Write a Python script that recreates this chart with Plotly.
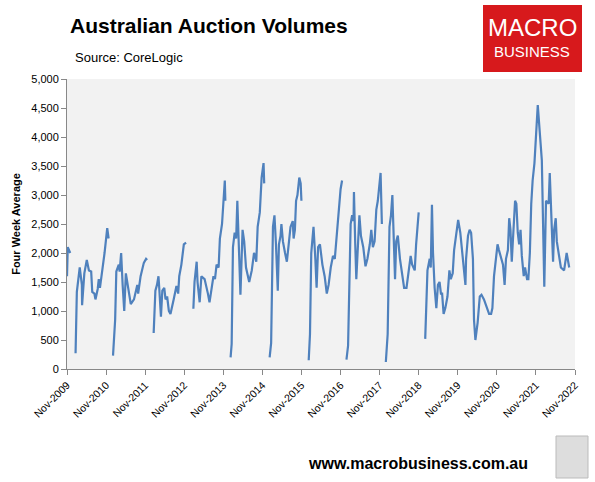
import plotly.graph_objects as go

dates = [
"2009-11-01","2009-11-08","2009-12-01",None,
"2010-01-20","2010-02-01","2010-02-28","2010-03-20","2010-03-22","2010-04-12","2010-05-05","2010-05-25","2010-06-15","2010-06-25","2010-07-15","2010-07-25","2010-08-15","2010-08-25","2010-09-05","2010-09-27","2010-10-18","2010-11-12","2010-11-25",None,
"2011-01-05","2011-01-25","2011-02-05","2011-02-28","2011-03-08","2011-03-22","2011-04-05","2011-04-20","2011-05-05","2011-05-20","2011-06-05","2011-06-20","2011-07-20","2011-08-20","2011-08-28","2011-09-20","2011-10-20","2011-11-10","2011-11-20",None,
"2012-01-20","2012-02-05","2012-02-20","2012-03-05","2012-03-12","2012-03-28","2012-04-10","2012-04-28","2012-05-10","2012-05-25","2012-06-10","2012-06-25","2012-07-25","2012-08-20","2012-09-05","2012-09-15","2012-10-05","2012-10-28","2012-11-18",None,
"2013-01-25","2013-02-05","2013-02-25","2013-03-05","2013-03-25","2013-04-10","2013-05-10","2013-05-25","2013-06-10","2013-06-25","2013-07-20","2013-08-01","2013-08-15","2013-08-30","2013-09-18","2013-09-30","2013-10-20","2013-11-01","2013-11-15","2013-11-20",None,
"2014-01-08","2014-01-18","2014-01-30","2014-02-15","2014-03-01","2014-03-12","2014-03-30","2014-04-10","2014-04-30","2014-05-15","2014-06-01","2014-07-01","2014-07-25","2014-08-15","2014-08-25","2014-09-05","2014-09-18","2014-10-08","2014-10-25","2014-11-12","2014-11-18",None,
"2015-01-08","2015-01-22","2015-02-08","2015-02-22","2015-03-08","2015-03-25","2015-04-05","2015-04-20","2015-04-28","2015-05-12","2015-06-01","2015-06-18","2015-07-05","2015-07-22","2015-08-12","2015-08-20","2015-09-01","2015-09-12","2015-09-25","2015-10-12","2015-10-25","2015-11-01",None,
"2016-01-08","2016-01-20","2016-02-01","2016-02-22","2016-03-10","2016-03-22","2016-04-05","2016-04-22","2016-05-15","2016-06-05","2016-06-25","2016-07-12","2016-08-01","2016-08-22","2016-09-08","2016-10-01","2016-10-15","2016-11-01","2016-11-15",None,
"2016-12-26","2017-01-10","2017-02-03","2017-02-17","2017-03-02","2017-03-06","2017-03-18","2017-03-28","2017-04-26","2017-05-10","2017-06-01","2017-06-22","2017-07-10","2017-08-01","2017-08-15","2017-08-30","2017-09-15","2017-10-01","2017-10-15","2017-10-28","2017-11-10","2017-11-22",None,
"2017-12-29","2018-01-15","2018-02-01","2018-02-15","2018-02-28","2018-03-08","2018-03-25","2018-04-05","2018-04-20","2018-05-10","2018-05-25","2018-06-18","2018-07-10","2018-07-28","2018-08-18","2018-09-01","2018-09-25","2018-10-08","2018-10-15","2018-11-01",None,
"2019-01-01","2019-01-22","2019-02-12","2019-02-22","2019-03-05","2019-03-15","2019-03-30","2019-04-15","2019-04-30","2019-05-15","2019-05-28","2019-06-08","2019-06-22","2019-07-08","2019-07-28","2019-08-15","2019-08-28","2019-09-15","2019-09-28","2019-10-15","2019-11-05","2019-11-25","2019-12-18",
"2020-01-12","2020-01-18","2020-02-05","2020-02-20","2020-03-05","2020-03-22","2020-04-01","2020-04-14","2020-05-05","2020-05-25","2020-06-10","2020-07-03","2020-07-25","2020-08-20","2020-09-08","2020-09-20","2020-10-05","2020-10-20","2020-11-07","2020-11-20","2020-12-16","2020-12-28",
"2021-01-12","2021-01-25","2021-02-12","2021-02-24","2021-03-08","2021-03-20","2021-04-02","2021-04-20","2021-05-02","2021-05-15","2021-05-28","2021-06-10","2021-06-22","2021-07-10","2021-07-22","2021-08-10","2021-08-22","2021-09-05","2021-09-18","2021-10-01","2021-10-18","2021-11-18","2021-12-26",
"2022-01-18","2022-02-03","2022-02-28","2022-03-10","2022-03-25","2022-04-10","2022-04-20","2022-05-05","2022-05-15","2022-06-22","2022-07-22","2022-08-15","2022-09-08",
]
volumes = [
1600,2100,2000,None,
270,1330,1750,1450,1100,1650,1880,1700,1680,1330,1300,1200,1380,1550,1400,1700,2000,2430,2250,None,
230,850,1680,1800,1680,2000,1450,1000,1650,1500,1300,1120,1200,1450,1300,1600,1830,1900,1880,None,
620,1350,1450,1600,1400,900,1350,1400,1200,1250,1000,950,1200,1430,1300,1600,1800,2150,2180,None,
1040,1500,1850,1500,1150,1600,1550,1450,1300,1150,1450,1600,1550,1800,1750,2250,2500,2950,3250,2900,None,
200,430,2100,2350,2250,2900,1900,1280,2400,2200,1750,1500,1700,2000,1950,1850,2450,2700,3300,3550,3200,None,
200,450,2450,2650,2150,1350,2150,2300,2500,2200,2000,1850,2150,2450,2550,2250,2400,2900,3000,3300,3200,2900,None,
150,600,2000,2450,1900,1400,2100,2150,1800,1600,1300,1450,1750,1950,1900,2400,2600,3100,3250,None,
160,400,2500,2650,2550,3050,2150,1550,2650,2300,2100,1770,1900,2150,2400,2100,2200,2750,2900,3100,3380,2500,None,
120,600,2450,2650,3000,2450,1550,2200,2300,1900,1700,1400,1400,1700,1950,1800,1700,2150,2300,2700,None,
520,1700,1900,1750,2830,2000,1400,1050,1450,1500,1300,1300,950,1050,1250,1700,1550,1650,2050,2300,2570,2350,1900,
1450,1900,2300,2400,2350,1900,850,500,800,1250,1280,1200,1100,950,950,1050,1600,1850,2150,2050,1900,1800,
1450,1900,2050,2600,2400,1850,2300,2900,2850,2350,2150,2400,1950,1600,1750,1550,1550,2000,2850,3250,3550,4550,3600,
1420,2900,2850,3380,2500,1850,2400,2600,2200,1750,1700,2000,1750,
]
years = list(range(2009, 2023))
tick_dates = [f"{y}-11-01" for y in years]
tick_labels = [f"Nov-{y}" for y in years]
y_ticks = list(range(0, 5001, 500))

fig = go.Figure(go.Scatter(x=dates, y=volumes, mode="lines", connectgaps=False,
                           line=dict(color="#4F81BD", width=2.2)))
fnt = "Liberation Sans, Arial, sans-serif"
fig.update_layout(
    width=595, height=482, paper_bgcolor="white", plot_bgcolor="#F2F2F2",
    margin=dict(l=67, r=20, t=79, b=113, autoexpand=False), showlegend=False,
    font=dict(family=fnt, size=11, color="black"),
    xaxis=dict(range=["2009-11-01", "2022-11-01"], tickvals=tick_dates, ticktext=tick_labels,
               tickangle=-45, showgrid=False, zeroline=False, showline=True, linecolor="#888",
               ticks="outside", ticklen=5, tickcolor="#888", tickfont=dict(size=10.5)),
    yaxis=dict(range=[0, 5000], tickvals=y_ticks, tickformat=",", showgrid=False, zeroline=False,
               showline=True, linecolor="#888", ticks="outside", ticklen=5, tickcolor="#888",
               title=dict(text="<b>Four Week Average</b>", font=dict(size=11), standoff=8)),
    annotations=[
        dict(text="<b>Australian Auction Volumes</b>", x=68, y=482-25, xref="paper", yref="paper",
             showarrow=False, font=dict(size=21), xanchor="left", yanchor="middle"),
        dict(text="Source: CoreLogic", x=73, y=482-57, showarrow=False, font=dict(size=13),
             xanchor="left", yanchor="middle"),
        dict(text="MACRO", x=532, y=482-27, showarrow=False, font=dict(size=24, color="white"),
             xanchor="center", yanchor="middle"),
        dict(text="BUSINESS", x=532, y=482-52, showarrow=False, font=dict(size=15, color="white"),
             xanchor="center", yanchor="middle"),
        dict(text="<b>www.macrobusiness.com.au</b>", x=530, y=482-463, showarrow=False,
             font=dict(size=16), xanchor="right", yanchor="middle"),
    ],
    shapes=[dict(type="rect", xref="paper", yref="paper", x0=483, x1=582, y0=482-72, y1=482-5,
                 fillcolor="#D7191C", line=dict(width=0), layer="below"),
            dict(type="rect", xref="paper", yref="paper", x0=556, x1=588, y0=482-478, y1=482-436,
                 fillcolor="#DDDDDD", line=dict(color="#BBBBBB", width=1), layer="below")],
)
pw, ph = 595 - 67 - 20, 482 - 79 - 113
for a in fig.layout.annotations:
    a.xref = "paper"; a.yref = "paper"
    a.x = (a.x - 67) / pw
    a.y = (a.y - 113) / ph
for s in fig.layout.shapes:
    s.x0 = (s.x0 - 67) / pw; s.x1 = (s.x1 - 67) / pw
    s.y0 = (s.y0 - 113) / ph; s.y1 = (s.y1 - 113) / ph
fig.write_html("out.html", config={"displayModeBar": False},
               post_script="document.body.style.margin='0';")
